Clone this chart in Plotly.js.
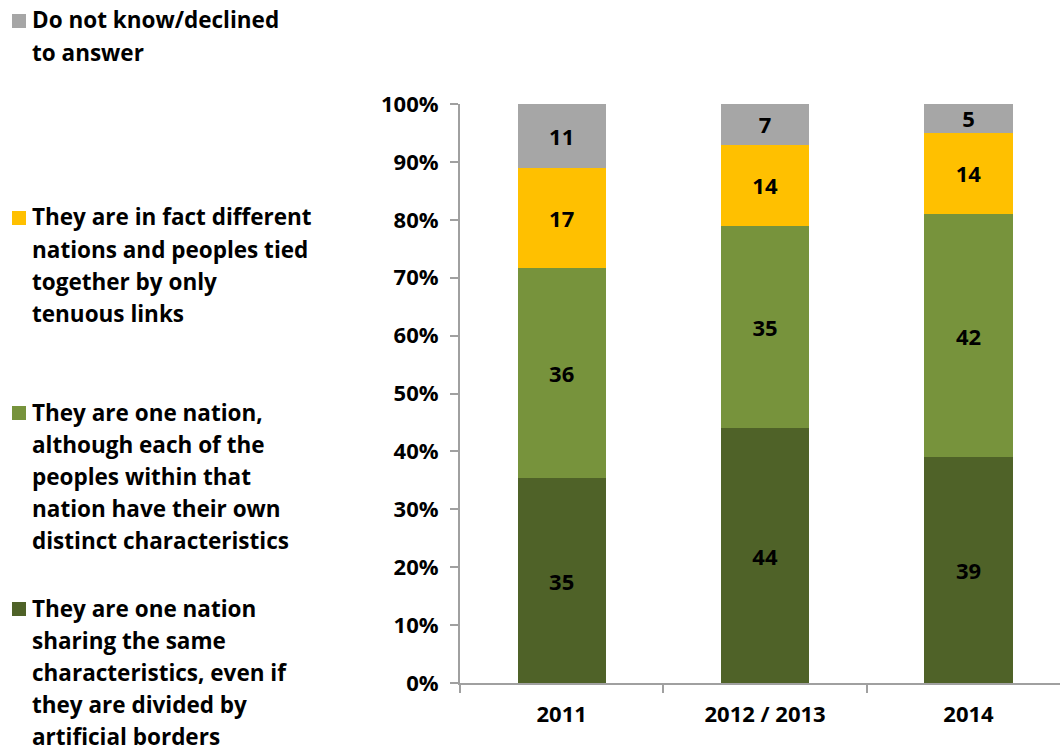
<!DOCTYPE html>
<html>
<head>
<meta charset="utf-8">
<script src="https://cdn.plot.ly/plotly-3.0.1.min.js"></script>
<style>html,body{margin:0;padding:0;background:#fff}#chart{width:1060px;height:751px}</style>
</head>
<body>
<div id="chart"></div>
<script>
const categories = ["2011", "2012 / 2013", "2014"];
const seriesNames = [
  "They are one nation sharing the same characteristics, even if they are divided by artificial borders",
  "They are one nation, although each of the peoples within that nation have their own distinct characteristics",
  "They are in fact different nations and peoples tied together by only tenuous links",
  "Do not know/declined to answer"
];
const oneNationSame = [35, 44, 39];
const oneNationDistinct = [36, 35, 42];
const differentNations = [17, 14, 14];
const doNotKnow = [11, 7, 5];
const yTickVals = [0, 10, 20, 30, 40, 50, 60, 70, 80, 90, 100];
const yTickText = ["0%", "10%", "20%", "30%", "40%", "50%", "60%", "70%", "80%", "90%", "100%"];

const colors = ["#4f6228", "#77933c", "#ffc000", "#a6a6a6"];
const seriesValues = [oneNationSame, oneNationDistinct, differentNations, doNotKnow];

const FONT = "'Open Sans', 'Liberation Sans', sans-serif";
const FS = 22.5;
const W = 1060, H = 751, ML = 460, MR = 0, MT = 104, MB = 68;
const PW = W - ML - MR, PH = H - MT - MB;
const px = x => (x - ML) / PW;
const py = y => (H - MB - y) / PH;

const traces = seriesValues.map((vals, i) => ({
  type: "bar",
  name: seriesNames[i],
  x: categories,
  y: vals,
  text: vals.map(String),
  texttemplate: "%{text}",
  textposition: "inside",
  insidetextanchor: "middle",
  textangle: 0,
  constraintext: "none",
  textfont: {family: FONT, size: 22, color: "#000", weight: "bold"},
  marker: {color: colors[i], line: {width: 0}},
  width: 0.433,
  showlegend: false,
  hoverinfo: "skip"
}));

// Legend drawn as text lines beside coloured squares
const legendItems = [
  {color: colors[3], lines: ["Do not know/declined", "to answer"], y0: 20},
  {color: colors[2], lines: ["They are in fact different", "nations and peoples tied", "together by only", "tenuous links"], y0: 217},
  {color: colors[1], lines: ["They are one nation,", "although each of the", "peoples within that", "nation have their own", "distinct characteristics"], y0: 412},
  {color: colors[0], lines: ["They are one nation", "sharing the same", "characteristics, even if", "they are divided by", "artificial borders"], y0: 608}
];
const LINE = 32.2;
const annotations = [];
const shapes = [];
legendItems.forEach(item => {
  item.lines.forEach((ln, j) => {
    annotations.push({
      xref: "paper", yref: "paper",
      x: px(31), y: py(item.y0 + j * LINE),
      xanchor: "left", yanchor: "middle",
      text: ln, showarrow: false, borderpad: 0,
      font: {family: FONT, size: FS, color: "#000", weight: "bold"}
    });
  });
  shapes.push({
    type: "rect", xref: "paper", yref: "paper",
    x0: px(12), x1: px(26), y0: py(item.y0 - 6), y1: py(item.y0 + 8),
    fillcolor: item.color, line: {width: 0}
  });
});

const layout = {
  width: W, height: H,
  margin: {l: ML, r: MR, t: MT, b: MB},
  paper_bgcolor: "#fff", plot_bgcolor: "#fff",
  barmode: "stack",
  barnorm: "percent",
  showlegend: false,
  font: {family: FONT, size: FS, color: "#000", weight: "bold"},
  xaxis: {
    type: "category",
    range: [-0.5, 2.45],
    showline: true, linecolor: "#a0a0a0", linewidth: 2,
    ticks: "outside", tickson: "boundaries", ticklen: 8, tickcolor: "#a0a0a0", tickwidth: 2,
    ticklabelstandoff: 11,
    showgrid: false, zeroline: false,
    tickfont: {family: FONT, size: 22, color: "#000", weight: "bold"}
  },
  yaxis: {
    range: [0, 100],
    tickvals: yTickVals, ticktext: yTickText,
    showline: true, linecolor: "#a0a0a0", linewidth: 2,
    ticks: "outside", ticklen: 8, tickcolor: "#a0a0a0", tickwidth: 2,
    ticklabelstandoff: 7,
    showgrid: false, zeroline: false,
    tickfont: {family: FONT, size: 22, color: "#000", weight: "bold"}
  },
  annotations: annotations,
  shapes: shapes
};

Plotly.newPlot("chart", traces, layout, {displayModeBar: false, staticPlot: true});
</script>
</body>
</html>
